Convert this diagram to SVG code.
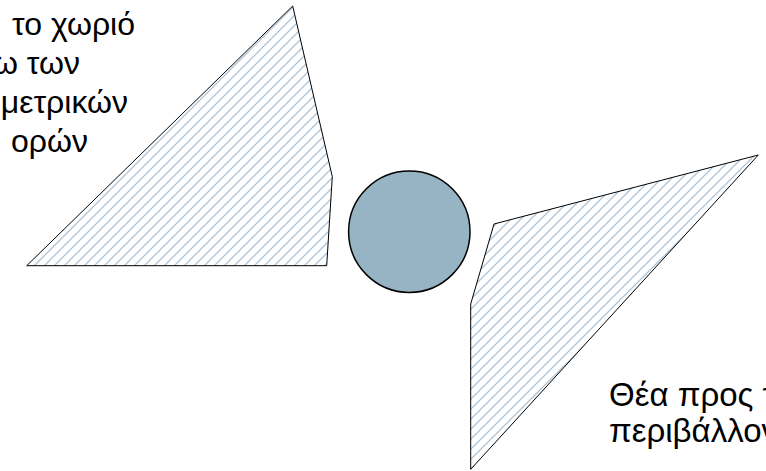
<svg xmlns="http://www.w3.org/2000/svg" width="766" height="471" viewBox="0 0 766 471">
  <defs>
    <pattern id="hatch" patternUnits="userSpaceOnUse" width="10" height="10">
      <path d="M-2,2 L2,-2 M0,10 L10,0 M8,12 L12,8" stroke="#adc3d7" stroke-width="1.3" fill="none"/>
    </pattern>
    <style>
      .label { font-family: "Liberation Sans", Arial, sans-serif; font-size: 32px; fill: #000; }
      .label.r { font-size: 33px; }
      .area { fill: url(#hatch); stroke: #000; stroke-width: 1; stroke-linejoin: miter; }
      .hub { fill: #96b4c4; stroke: #000; stroke-width: 1.5; }
    </style>
  </defs>
  <rect width="766" height="471" fill="#fff"/>
  <g id="left-area">
    <polygon class="area" points="292.7,6 332.3,176.7 326.7,265.7 26.7,265.7"/>
  </g>
  <g id="right-area">
    <polygon class="area" points="758.3,155 494,224 470.7,304 470.7,469.3"/>
  </g>
  <g id="center">
    <circle class="hub" cx="409.3" cy="231.7" r="60.7"/>
  </g>
  <g id="left-label">
    <text class="label" text-anchor="end" x="135" y="35">το χωριό</text>
    <text class="label" text-anchor="end" x="80" y="74">ω των</text>
    <text class="label" text-anchor="end" x="128" y="113">μετρικών</text>
    <text class="label" text-anchor="end" x="88" y="152">ορών</text>
  </g>
  <g id="right-label">
    <text class="label r" x="609" y="406">Θέα προς τ</text>
    <text class="label r" x="609" y="442">περιβάλλον</text>
  </g>
  <g id="connectors"></g>
</svg>
